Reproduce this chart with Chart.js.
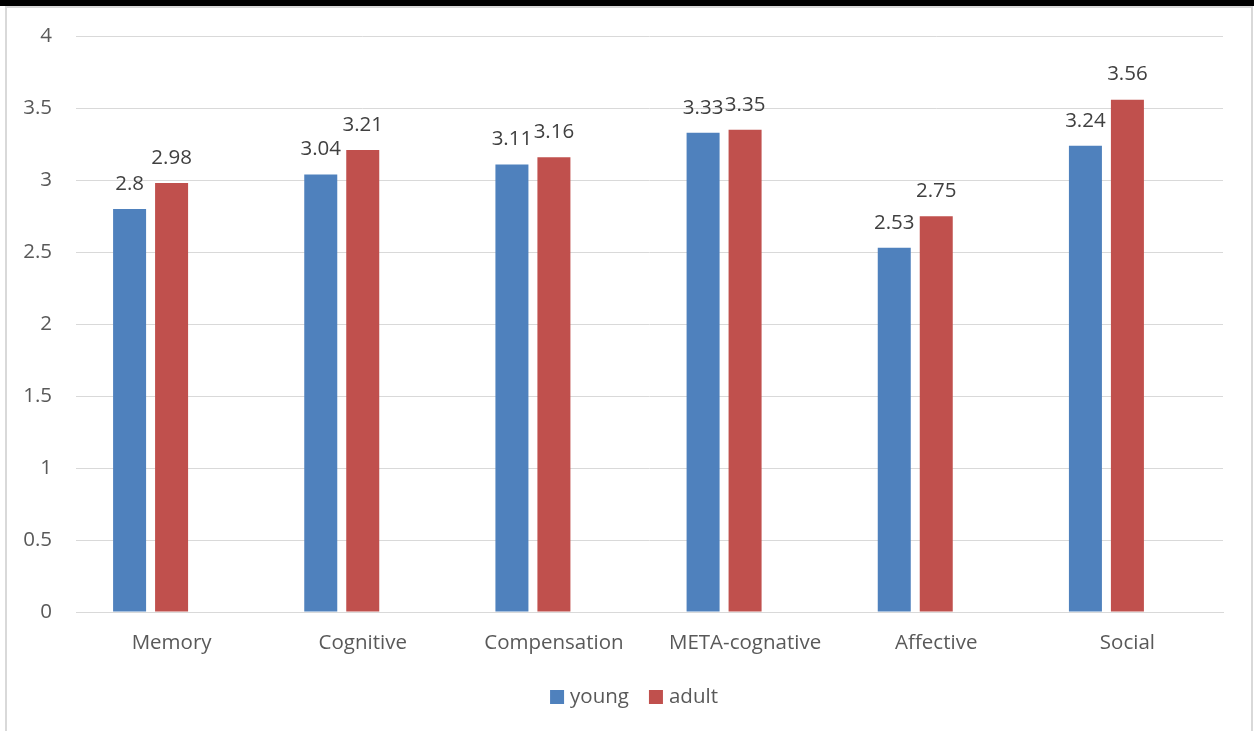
<!DOCTYPE html>
<html>
<head>
<meta charset="utf-8">
<script src="https://cdn.jsdelivr.net/npm/chart.js@4/dist/chart.umd.min.js"></script>
<style>
  html, body { margin: 0; padding: 0; background: #ffffff; }
  body { width: 1254px; height: 731px; position: relative; overflow: hidden; }
  #topband { position: absolute; left: 0; top: 0; width: 1254px; height: 6px; background: #000000; }
  #frame { position: absolute; left: 5px; top: 6px; width: 1248px; height: 740px;
           border: 2px solid #d9d9d9; box-sizing: border-box; pointer-events: none; }
  #wrap { position: absolute; left: 0; top: 0; width: 1254px; height: 731px; }
</style>
</head>
<body>
<div id="wrap"><canvas id="chart" width="1254" height="731"></canvas></div>
<div id="topband"></div>
<div id="frame"></div>
<script>
// Strategy-use categories and mean scores per age group
const categories = ['Memory', 'Cognitive', 'Compensation', 'META-cognative', 'Affective', 'Social'];
const youngScores = [2.8, 3.04, 3.11, 3.33, 2.53, 3.24];
const adultScores = [2.98, 3.21, 3.16, 3.35, 2.75, 3.56];
const yTicks = [0, 0.5, 1, 1.5, 2, 2.5, 3, 3.5, 4];

const FONT = '"Open Sans", "DejaVu Sans", sans-serif';
const TEXT = '#595959';
const BLUE = '#4f81bd';
const RED = '#c0504d';

// Value labels drawn above each bar
const barValueLabels = {
  id: 'barValueLabels',
  afterDatasetsDraw(chart) {
    const ctx = chart.ctx;
    ctx.save();
    ctx.font = '20.5px ' + FONT;
    ctx.fillStyle = '#404040';
    ctx.textAlign = 'center';
    ctx.textBaseline = 'middle';
    chart.data.datasets.forEach((ds, di) => {
      if (!ds.label) return;
      const meta = chart.getDatasetMeta(di);
      meta.data.forEach((bar, i) => {
        const v = ds.data[i];
        if (v == null) return;
        ctx.fillText(String(v), bar.x, bar.y - 25);
      });
    });
    ctx.restore();
  }
};

// Legend along the bottom: square swatch followed by series name
const bottomLegend = {
  id: 'bottomLegend',
  afterDraw(chart) {
    const ctx = chart.ctx;
    const items = chart.data.datasets.filter(d => d.label);
    ctx.save();
    ctx.font = '20.5px ' + FONT;
    ctx.textBaseline = 'middle';
    const box = 14, gapText = 6, gapItem = 20;
    const widths = items.map(d => box + gapText + ctx.measureText(d.label).width);
    const total = widths.reduce((a, b) => a + b, 0) + gapItem * (items.length - 1);
    let x = 634 - total / 2;
    const y = 697;
    items.forEach((d, k) => {
      ctx.fillStyle = d.backgroundColor;
      ctx.fillRect(x, y - box / 2, box, box);
      ctx.fillStyle = TEXT;
      ctx.textAlign = 'left';
      ctx.fillText(d.label, x + box + gapText, y);
      x += widths[k] + gapItem;
    });
    ctx.restore();
  }
};

new Chart(document.getElementById('chart'), {
  type: 'bar',
  data: {
    labels: categories,
    datasets: [
      { label: 'young', data: youngScores, backgroundColor: BLUE },
      { label: 'adult', data: adultScores, backgroundColor: RED },
      // empty third slot keeps the group layout with the red bar on the category centre
      { label: '', data: categories.map(() => null), backgroundColor: 'rgba(0,0,0,0)' }
    ]
  },
  options: {
    responsive: false,
    animation: false,
    devicePixelRatio: 1,
    categoryPercentage: 0.659,
    barPercentage: 0.786,
    layout: { padding: { left: 0, right: 31, top: 36, bottom: 0 } },
    plugins: {
      legend: { display: false },
      tooltip: { enabled: false }
    },
    scales: {
      x: {
        grid: { display: false, drawTicks: false, tickLength: 0 },
        border: { display: true, color: '#d9d9d9', width: 1 },
        ticks: { color: TEXT, font: { family: FONT, size: 20.5 }, padding: 19, maxRotation: 0 },
        afterFit(scale) { scale.height = 119; }
      },
      y: {
        min: 0,
        max: 4,
        afterBuildTicks(scale) { scale.ticks = yTicks.map(v => ({ value: v })); },
        grid: { color: '#d9d9d9', lineWidth: 1, drawTicks: false, tickLength: 0 },
        border: { display: false },
        ticks: {
          color: TEXT,
          font: { family: FONT, size: 20.5 },
          padding: 24,
          callback: v => String(v)
        },
        afterFit(scale) { scale.width = 76; }
      }
    }
  },
  plugins: [barValueLabels, bottomLegend]
});
</script>
</body>
</html>
